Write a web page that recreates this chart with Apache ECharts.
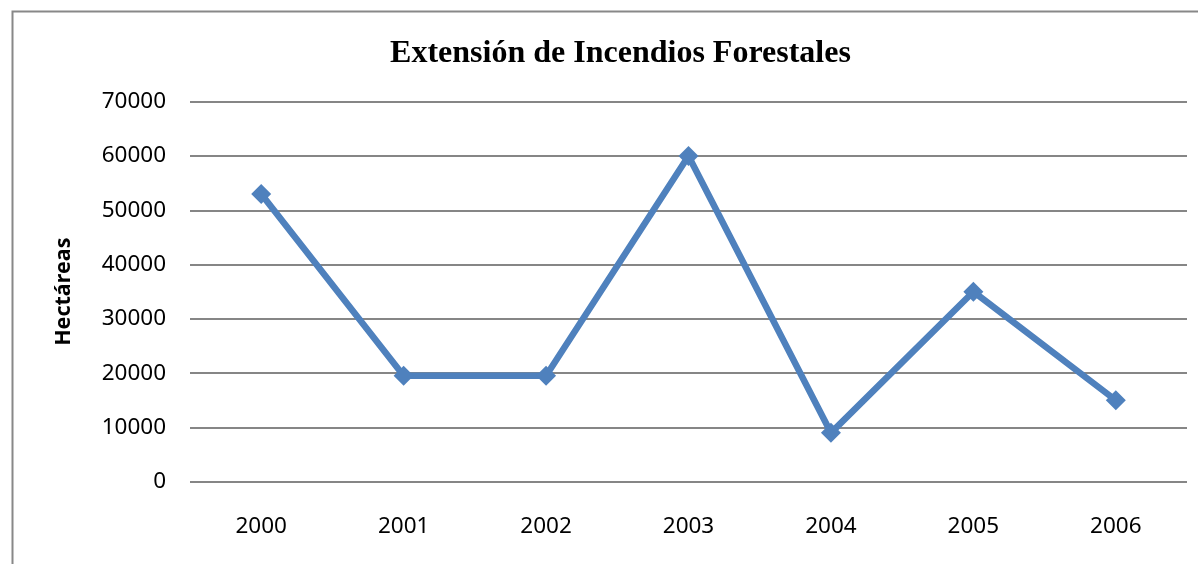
<!DOCTYPE html>
<html>
<head>
<meta charset="utf-8">
<script src="https://cdn.jsdelivr.net/npm/echarts@6/dist/echarts.min.js"></script>
<style>
  html, body { margin: 0; padding: 0; background: #fff; }
  #chart { width: 1198px; height: 564px; }
</style>
</head>
<body>
<div id="chart"></div>
<script>
const years = ['2000', '2001', '2002', '2003', '2004', '2005', '2006']
const hectares = [53000, 19500, 19500, 60000, 9000, 35000, 15000]

const chart = echarts.init(document.getElementById('chart'))

chart.setOption({
  backgroundColor: '#fff',
  animation: false,
  title: {
    text: 'Extensión de Incendios Forestales',
    left: 615.5,
    top: 33,
    textAlign: 'center',
    textStyle: {
      fontFamily: 'Liberation Serif',
      fontWeight: 'bold',
      fontSize: 32,
      color: '#000',
    },
  },
  graphic: [{
    type: 'rect',
    shape: { x: 12.5, y: 11.5, width: 1400, height: 800 },
    style: { fill: 'none', stroke: '#888', lineWidth: 2 },
    silent: true,
  }],
  grid: { left: 190, right: 11, top: 101.7, bottom: 82.3, containLabel: false },
  xAxis: {
    type: 'category',
    data: years,
    boundaryGap: true,
    axisLine: { show: false },
    axisTick: { show: false },
    axisLabel: { color: '#000', fontFamily: 'Noto Sans', fontSize: 22.5, margin: 33 },
  },
  yAxis: {
    type: 'value',
    min: 0,
    max: 70000,
    interval: 10000,
    name: 'Hectáreas',
    nameLocation: 'middle',
    nameGap: 115,
    nameTextStyle: { color: '#000', fontFamily: 'Noto Sans', fontWeight: 'bold', fontSize: 21.5 },
    axisLine: { show: false },
    axisTick: { show: false },
    axisLabel: {
      color: '#000', fontFamily: 'Noto Sans', fontSize: 22.5, margin: 24,
      formatter: v => String(v),
    },
    splitLine: { lineStyle: { color: '#868686', width: 2 } },
  },
  series: [{
    type: 'line',
    data: hectares,
    symbol: 'diamond',
    symbolSize: 20,
    lineStyle: { color: '#4F81BD', width: 6.5 },
    itemStyle: { color: '#4F81BD' },
  }],
})
</script>
</body>
</html>
